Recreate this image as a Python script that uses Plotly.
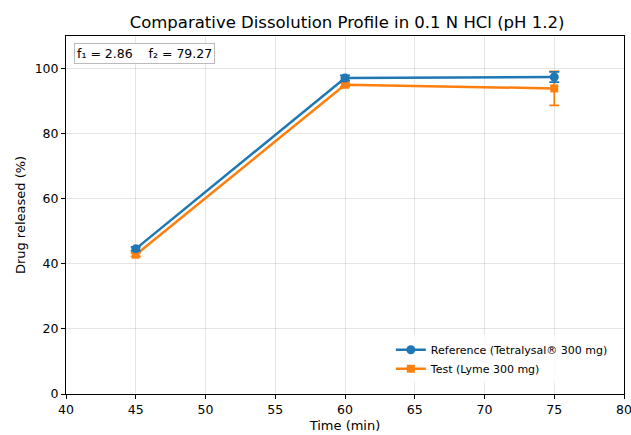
import plotly.graph_objects as go

time_min = [45, 60, 75]
ref_values = [44.6, 97.1, 97.4]
ref_err = [0.6, 0.8, 1.6]
test_values = [42.8, 95.0, 93.9]
test_err = [0.6, 0.6, 5.2]
ref_name = "Reference (Tetralysal® 300 mg)"
test_name = "Test (Lyme 300 mg)"
title = "Comparative Dissolution Profile in 0.1 N HCl (pH 1.2)"
stats_text = "f₁ = 2.86    f₂ = 79.27"

font = "DejaVu Sans"
fig = go.Figure()
fig.add_trace(go.Scatter(
    x=time_min, y=test_values, name=test_name, mode="lines+markers",
    line=dict(color="#ff7f0e", width=2.5),
    marker=dict(symbol="square", size=8, color="#ff7f0e"),
    error_y=dict(type="data", array=test_err, color="#ff7f0e", thickness=1.8, width=5),
    legendrank=2,
))
fig.add_trace(go.Scatter(
    x=time_min, y=ref_values, name=ref_name, mode="lines+markers",
    line=dict(color="#1f77b4", width=2.5),
    marker=dict(symbol="circle", size=9, color="#1f77b4"),
    error_y=dict(type="data", array=ref_err, color="#1f77b4", thickness=1.8, width=5),
    legendrank=1,
))

axis_common = dict(
    showline=True, linecolor="black", linewidth=1, mirror=True,
    ticks="outside", ticklen=4, tickcolor="black", automargin=False,
    ticklabeloverflow="allow",
    showgrid=True, gridcolor="rgba(0,0,0,0.1)", gridwidth=1,
    zeroline=False, tickfont=dict(family=font, size=12.5, color="black"),
)
fig.update_xaxes(range=[40, 80], dtick=5, title=dict(text="Time (min)", font=dict(family=font, size=13, color="black"), standoff=4), **axis_common)
fig.update_yaxes(range=[0, 110], tickvals=[0, 20, 40, 60, 80, 100], title=dict(text="Drug released (%)", font=dict(family=font, size=13, color="black"), standoff=6), **axis_common)

fig.add_annotation(
    xref="paper", yref="paper", x=0.014, y=0.98, xanchor="left", yanchor="top",
    text=stats_text, showarrow=False, font=dict(family=font, size=12.5, color="black"),
    bordercolor="#bbbbbb", borderwidth=1, borderpad=2, bgcolor="white",
)

fig.update_layout(
    width=631, height=435,
    margin=dict(l=66, r=7, t=36, b=41),
    paper_bgcolor="white", plot_bgcolor="white",
    title=dict(text=title, x=0.55, xanchor="center", y=0.95, yanchor="middle", font=dict(family=font, size=16.5, color="black")),
    legend=dict(x=0.98, y=0.03, xanchor="right", yanchor="bottom", bgcolor="rgba(255,255,255,0.8)",
                font=dict(family=font, size=11, color="black"), borderwidth=0),
    showlegend=True,
)
fig.write_html("out.html")
